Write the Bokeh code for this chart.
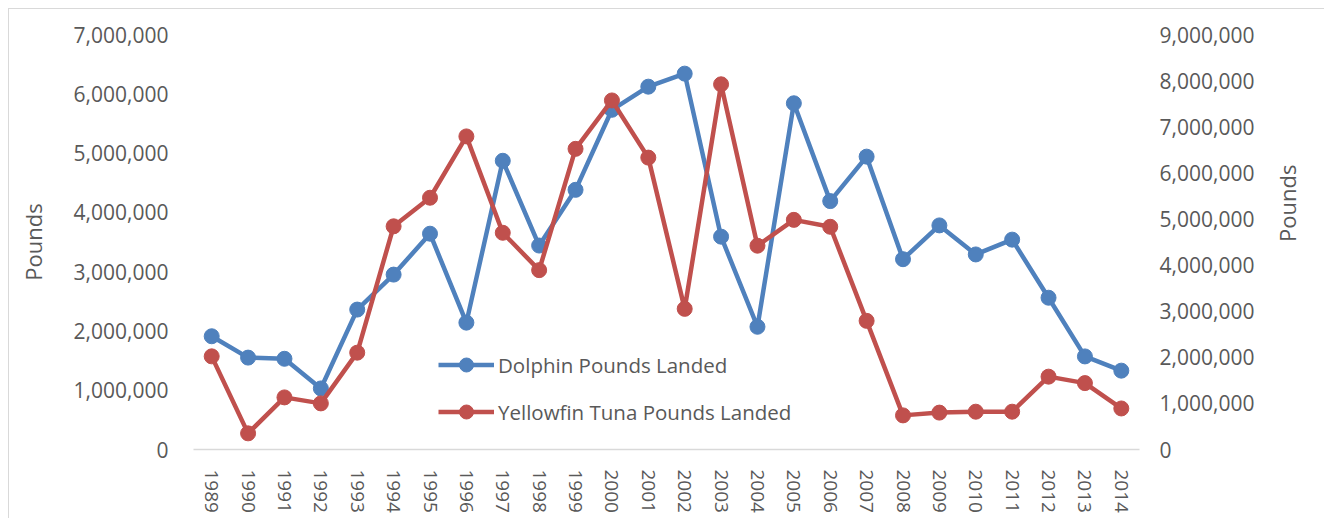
import math
from bokeh.plotting import figure
from bokeh.models import (Range1d, FactorRange, LinearAxis, FixedTicker,
                          NumeralTickFormatter, Legend, LegendItem)
from bokeh.embed import file_html
from bokeh.resources import INLINE

years = [str(y) for y in range(1989, 2015)]
dolphin = [1910000, 1550000, 1530000, 1030000, 2360000, 2950000, 3640000, 2140000,
           4870000, 3440000, 4380000, 5730000, 6120000, 6340000, 3590000, 2070000,
           5840000, 4190000, 4940000, 3210000, 3780000, 3290000, 3540000, 2560000,
           1570000, 1330000]
yellowfin = [2020000, 350000, 1130000, 1000000, 2100000, 4840000, 5460000, 6790000,
             4700000, 3890000, 6520000, 7570000, 6330000, 3050000, 7920000, 4420000,
             4980000, 4830000, 2790000, 740000, 800000, 820000, 820000, 1580000,
             1440000, 890000]
left_ticks = [0, 1000000, 2000000, 3000000, 4000000, 5000000, 6000000, 7000000]
right_ticks = [0, 1000000, 2000000, 3000000, 4000000, 5000000, 6000000, 7000000,
               8000000, 9000000]

BLUE = "#4F81BD"
RED = "#C0504D"
TXT = "#595959"
FONT = "Open Sans"

W, H = 1316, 510
p = figure(width=W, height=H, x_range=FactorRange(*years),
           y_range=Range1d(0, 7000000), output_backend="svg",
           toolbar_location=None, tools="")
p.extra_y_ranges = {"right": Range1d(0, 9000000)}
p.min_border_left = 184
p.min_border_right = 186
p.min_border_top = 25
p.min_border_bottom = 70
p.outline_line_color = None
p.xgrid.grid_line_color = None
p.ygrid.grid_line_color = None
p.background_fill_color = "white"
p.border_fill_color = "white"
p.styles = {"margin-left": "8px", "margin-top": "8px",
            "border-top": "1px solid #d9d9d9", "border-left": "1px solid #d9d9d9"}

# left axis
ya = p.yaxis[0]
ya.ticker = FixedTicker(ticks=left_ticks)
ya.formatter = NumeralTickFormatter(format="0,0")
ya.axis_line_color = None
ya.major_tick_line_color = None
ya.minor_tick_line_color = None
ya.major_label_text_font = FONT
ya.major_label_text_font_size = "21px"
ya.major_label_text_color = TXT
ya.major_label_standoff = 19
ya.axis_label = "Pounds"
ya.axis_label_text_font = FONT
ya.axis_label_text_font_size = "22px"
ya.axis_label_text_font_style = "normal"
ya.axis_label_text_color = TXT
ya.axis_label_standoff = 23

# right axis
ra = LinearAxis(y_range_name="right", ticker=FixedTicker(ticks=right_ticks),
                formatter=NumeralTickFormatter(format="0,0"))
ra.axis_line_color = None
ra.major_tick_line_color = None
ra.minor_tick_line_color = None
ra.major_label_text_font = FONT
ra.major_label_text_font_size = "21px"
ra.major_label_text_color = TXT
ra.major_label_standoff = 14
ra.axis_label = "Pounds"
ra.axis_label_orientation = math.pi / 2
ra.axis_label_text_align = "center"
ra.axis_label_text_baseline = "middle"
ra.axis_label_text_font = FONT
ra.axis_label_text_font_size = "22px"
ra.axis_label_text_font_style = "normal"
ra.axis_label_text_color = TXT
ra.axis_label_standoff = 30
p.add_layout(ra, "right")

# x axis
xa = p.xaxis[0]
xa.axis_line_color = "#d9d9d9"
xa.axis_line_width = 1.5
xa.major_tick_line_color = None
xa.minor_tick_line_color = None
xa.major_label_orientation = "vertical"
xa.major_label_text_font = FONT
xa.major_label_text_font_size = "19px"
xa.major_label_text_color = TXT
xa.major_label_standoff = 14

l1 = p.line(years, dolphin, line_color=BLUE, line_width=4.5)
c1 = p.scatter(years, dolphin, size=15, fill_color=BLUE, line_color=BLUE)
l2 = p.line(years, yellowfin, line_color=RED, line_width=4.5, y_range_name="right")
c2 = p.scatter(years, yellowfin, size=15, fill_color=RED, line_color=RED,
               y_range_name="right")

legend = Legend(items=[LegendItem(label="Dolphin Pounds Landed", renderers=[l1, c1]),
                       LegendItem(label="Yellowfin Tuna Pounds Landed", renderers=[l2, c2])],
                location=(245, 20), orientation="vertical")
legend.background_fill_alpha = 0
legend.border_line_color = None
legend.label_text_font = FONT
legend.label_text_font_size = "20.5px"
legend.label_text_color = TXT
legend.glyph_width = 56
legend.glyph_height = 35
legend.label_height = 35
legend.spacing = 12
legend.padding = 0
legend.margin = 0
legend.label_standoff = 4
p.add_layout(legend, "center")

open("out.html", "w").write(file_html(p, INLINE))
